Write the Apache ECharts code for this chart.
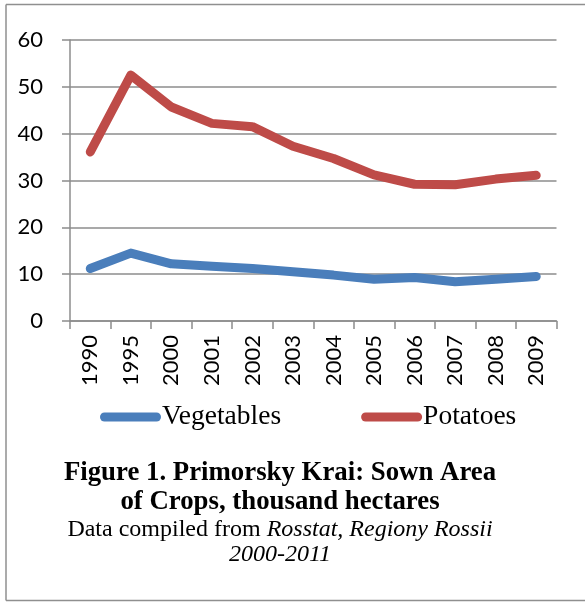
<!DOCTYPE html>
<html>
<head>
<meta charset="utf-8">
<script src="https://cdn.jsdelivr.net/npm/echarts@6/dist/echarts.min.js"></script>
<style>
  html, body { margin: 0; padding: 0; background: #fff; }
  #chart { width: 585px; height: 602px; }
</style>
</head>
<body>
<div id="chart"></div>
<script>
// Sown area of crops in Primorsky Krai, thousand hectares
const years = ['1990', '1995', '2000', '2001', '2002', '2003', '2004', '2005', '2006', '2007', '2008', '2009'];
const vegetables = [11.2, 14.5, 12.2, 11.7, 11.2, 10.5, 9.8, 8.9, 9.3, 8.4, 8.9, 9.5];
const potatoes = [36.1, 52.5, 45.7, 42.2, 41.5, 37.3, 34.7, 31.2, 29.2, 29.1, 30.3, 31.1];
const yTicks = { min: 0, max: 60, interval: 10 };

const blue = '#4a7ebb';
const red = '#be4b48';
const gridGray = '#8c8c8c';
const sansFont = 'Lato, "Liberation Sans", sans-serif';
const serifFont = '"Liberation Serif", "Times New Roman", serif';

const capsule = 'path://M4.5,0 H56.5 A4.5,4.5 0 0 1 56.5,9 H4.5 A4.5,4.5 0 0 1 4.5,0 Z';
const captionX = 280;

const chart = echarts.init(document.getElementById('chart'), null, { renderer: 'canvas' });

chart.setOption({
  animation: false,
  backgroundColor: '#ffffff',
  grid: { left: 70, right: 28.5, top: 40, bottom: 281, containLabel: false },
  legend: {
    left: 100,
    top: 403,
    padding: 0,
    itemWidth: 61,
    itemHeight: 9,
    itemGap: 80,
    textStyle: { fontFamily: serifFont, fontSize: 27.5, color: '#000', padding: [0, 0, 0, -4] },
    data: [
      { name: 'Vegetables', icon: capsule },
      { name: 'Potatoes', icon: capsule }
    ]
  },
  xAxis: {
    type: 'category',
    data: years,
    boundaryGap: true,
    axisLine: { lineStyle: { color: gridGray, width: 1.5 } },
    axisTick: { show: true, length: 8, inside: false, alignWithLabel: false, lineStyle: { color: gridGray, width: 1.5 } },
    axisLabel: { rotate: 90, margin: 14, fontFamily: sansFont, fontSize: 22, color: '#000', interval: 0 },
    splitLine: { show: false }
  },
  yAxis: {
    type: 'value',
    min: yTicks.min,
    max: yTicks.max,
    interval: yTicks.interval,
    axisLine: { show: true, lineStyle: { color: gridGray, width: 1.5 } },
    axisTick: { show: true, length: 8, lineStyle: { color: gridGray, width: 1.5 } },
    axisLabel: { margin: 27, fontFamily: sansFont, fontSize: 22, color: '#000' },
    splitLine: { show: true, lineStyle: { color: gridGray, width: 1.5 } }
  },
  series: [
    {
      name: 'Vegetables',
      type: 'line',
      data: vegetables,
      symbol: 'none',
      itemStyle: { color: blue },
      lineStyle: { color: blue, width: 9, cap: 'round', join: 'round' }
    },
    {
      name: 'Potatoes',
      type: 'line',
      data: potatoes,
      symbol: 'none',
      itemStyle: { color: red },
      lineStyle: { color: red, width: 9, cap: 'round', join: 'round' }
    }
  ],
  graphic: [
    // frame around the figure (left, top, bottom edges)
    { type: 'line', shape: { x1: 6, y1: 4.5, x2: 585, y2: 4.5 }, style: { stroke: '#8f8f8f', lineWidth: 1.5 } },
    { type: 'line', shape: { x1: 6, y1: 4.5, x2: 6, y2: 600.5 }, style: { stroke: '#8f8f8f', lineWidth: 1.5 } },
    { type: 'line', shape: { x1: 6, y1: 600.5, x2: 585, y2: 600.5 }, style: { stroke: '#8f8f8f', lineWidth: 1.5 } },
    // caption
    {
      type: 'text', x: captionX, y: 473,
      style: { text: 'Figure 1. Primorsky Krai: Sown Area', font: 'bold 26.8px ' + serifFont, fill: '#000', align: 'center', verticalAlign: 'middle' }
    },
    {
      type: 'text', x: captionX, y: 502,
      style: { text: 'of Crops, thousand hectares', font: 'bold 26.8px ' + serifFont, fill: '#000', align: 'center', verticalAlign: 'middle' }
    },
    {
      type: 'text', x: captionX, y: 530,
      style: {
        text: '{r|Data compiled from }{i|Rosstat, Regiony Rossii}',
        align: 'center', verticalAlign: 'middle',
        rich: {
          r: { fontFamily: serifFont, fontSize: 24, fill: '#000', color: '#000' },
          i: { fontFamily: serifFont, fontSize: 24, fontStyle: 'italic', fill: '#000', color: '#000' }
        }
      }
    },
    {
      type: 'text', x: captionX, y: 555,
      style: { text: '2000-2011', font: 'italic 24px ' + serifFont, fill: '#000', align: 'center', verticalAlign: 'middle' }
    }
  ]
});
</script>
</body>
</html>
